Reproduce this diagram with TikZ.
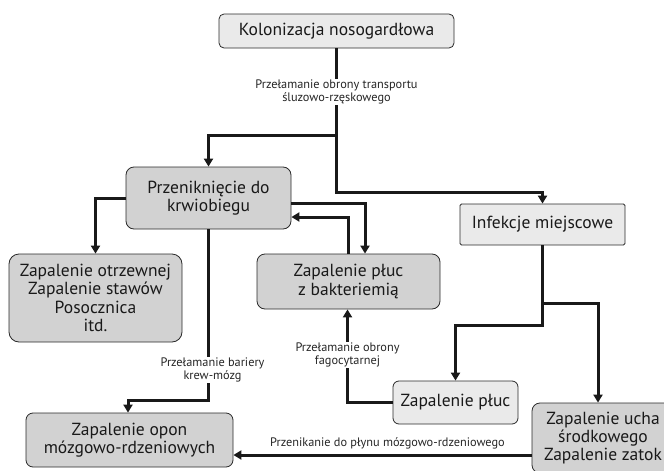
\documentclass[tikz,border=0pt]{standalone}
\usepackage{fontspec}
\setmainfont{PT Sans}
\usetikzlibrary{arrows.meta}
\definecolor{boxdark}{HTML}{D2D2D2}
\definecolor{boxlight}{HTML}{EAEAEA}
\definecolor{edge}{HTML}{2A2A2A}
\tikzset{
  box/.style={draw=edge, line width=0.8pt, align=center, inner sep=0pt,
    font=\fontsize{17.5}{18.3}\selectfont, text=black!90},
  dark/.style={box, fill=boxdark},
  light/.style={box, fill=boxlight},
  conn/.style={line width=3pt, draw=black!90},
  arr/.style={conn, -{Triangle[length=8pt,width=9pt]}},
  lbl/.style={fill=white, inner sep=1pt, align=center,
    font=\fontsize{12.3}{13.5}\selectfont, text=black!85},
}
\begin{document}
\begin{tikzpicture}[x=1pt,y=-1pt]
\useasboundingbox (0,0) rectangle (664,471);
% boxes
\node[light, rounded corners=5pt, minimum width=235pt, minimum height=34pt] (kol) at (336.5,31) {Kolonizacja nosogardłowa};
\node[dark, rounded corners=8pt, minimum width=165pt, minimum height=62pt] (prz) at (208.5,198) {Przeniknięcie do\\krwiobiegu};
\node[light, rounded corners=1.5pt, minimum width=165pt, minimum height=41pt] (inf) at (542.5,224.5) {Infekcje miejscowe};
\node[dark, rounded corners=10pt, minimum width=173pt, minimum height=88pt] (otr) at (95.5,298) {Zapalenie otrzewnej\\Zapalenie stawów\\Posocznica\\itd.};
\node[dark, rounded corners=8pt, minimum width=183pt, minimum height=55pt] (bak) at (348.5,281.5) {Zapalenie płuc\\z bakteriemią};
\node[light, rounded corners=6pt, minimum width=125pt, minimum height=43pt] (pluc) at (455.5,402.5) {Zapalenie płuc};
\node[dark, rounded corners=7pt, minimum width=207pt, minimum height=54pt] (opon) at (129.5,440) {Zapalenie opon\\mózgowo-rdzeniowych};
\node[dark, rounded corners=8pt, minimum width=142pt, minimum height=70pt] (ucha) at (603,438) {Zapalenie ucha\\środkowego\\Zapalenie zatok};
% junctions
\coordinate (j1) at (336.5,135);
\coordinate (j2) at (336.5,192);
\coordinate (j3) at (208.5,400);
\coordinate (j4) at (542.5,303);
\coordinate (j5) at (542.5,325);
% connectors
\draw[conn] (kol.south) -- (j1);
\draw[arr] (j1) -| (prz.north);
\draw[arr] (j1) -- (j2) -| (inf.north);
\draw[arr] (prz.west) -| (otr.north);
\draw[arr] ([yshift=-5pt]prz.east) -| ([xshift=16.5pt]bak.north);
\draw[arr] ([xshift=-0.5pt]bak.north) |- ([yshift=-19pt]prz.east);
\draw[arr] (prz.south) -- (j3) -| ([xshift=-1.5pt]opon.north);
\draw[arr] (pluc.west) -| ([xshift=-1pt]bak.south);
\draw[arr] (inf.south) -- (j4) -| ([xshift=-5pt]ucha.north);
\draw[arr] (j4) -- (j5) -| (pluc.north);
\draw[arr] ([yshift=-17pt]ucha.west) -- ([yshift=-15pt]opon.east);
% labels
\node[lbl] (l1) at (336.5,92) {Przełamanie obrony transportu\\śluzowo-rzęskowego};
\node[lbl] (l2) at (212.5,370) {Przełamanie bariery\\krew-mózg};
\node[lbl] (l3) at (347.5,355) {Przełamanie obrony\\fagocytarnej};
\node[lbl, fill=none] (l4) at (387.5,443) {Przenikanie do płynu mózgowo-rdzeniowego};
\end{tikzpicture}
\end{document}
